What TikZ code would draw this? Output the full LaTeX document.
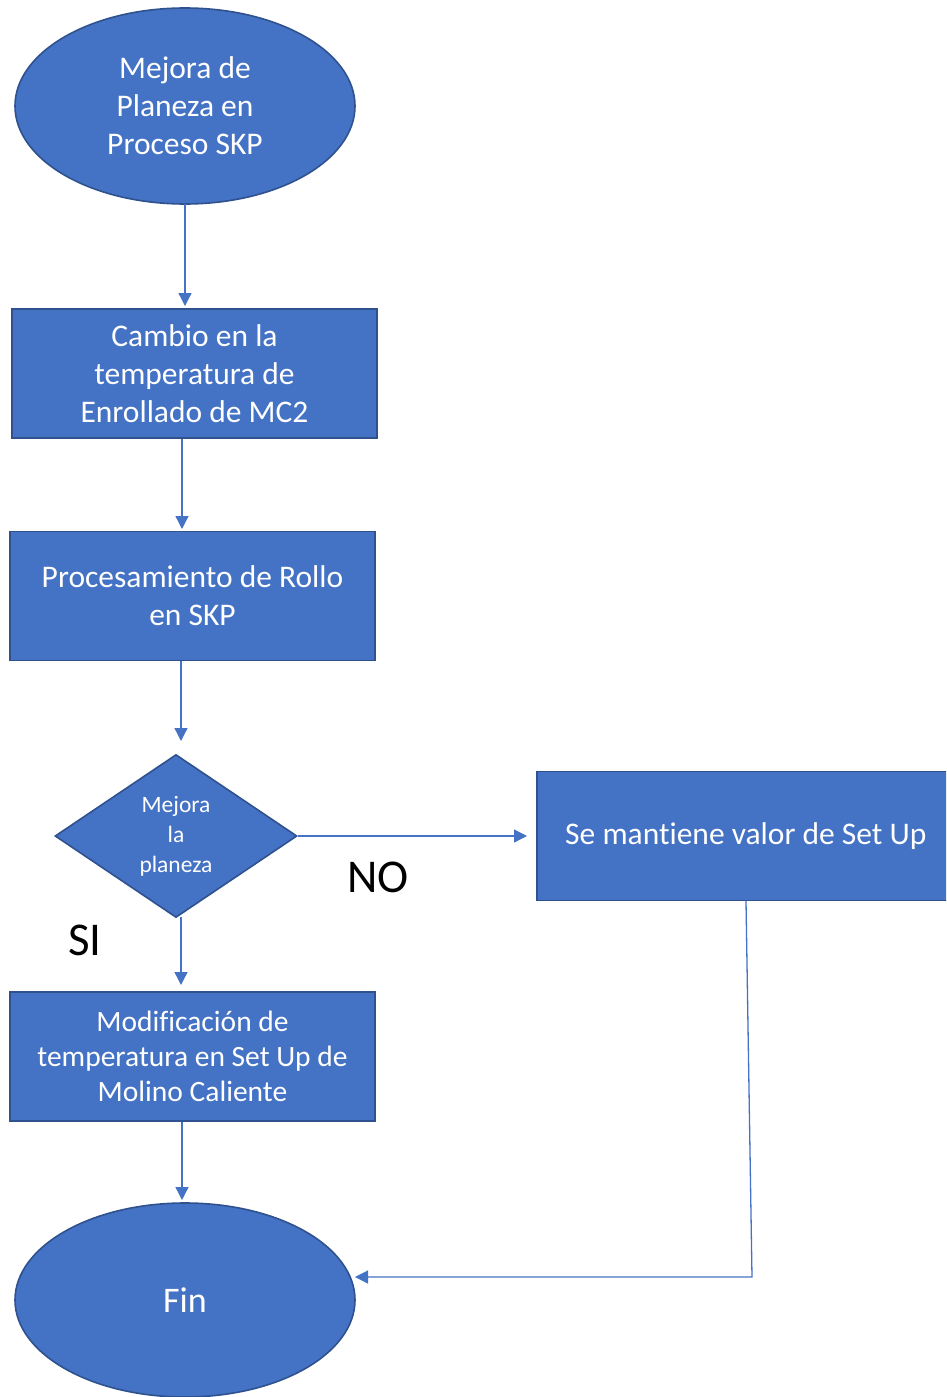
\documentclass[tikz,border=0pt]{standalone}
\usepackage{fontspec}
\setmainfont{Carlito}[Ligatures={NoCommon}]
\usetikzlibrary{shapes.geometric,arrows.meta}
\definecolor{boxfill}{HTML}{4472C4}
\definecolor{boxedge}{HTML}{2F528F}
\definecolor{flow}{HTML}{4472C4}
\tikzset{
  x=1pt, y=-1pt,
  shapebase/.style={fill=boxfill, draw=boxedge, line width=1.6pt, text=white,
    align=center, inner sep=0pt, font=\fontsize{31.5}{38}\selectfont},
  terminal/.style={shapebase, ellipse, minimum width=340pt, minimum height=196pt},
  process/.style={shapebase, rectangle, minimum width=365pt, minimum height=129pt},
  decision/.style={shapebase, diamond, minimum width=242pt, minimum height=163pt,
    font=\fontsize{23.5}{30}\selectfont},
  flowline/.style={draw=flow, line width=1.3pt, -{Triangle[length=13pt,width=13pt]}},
  answer/.style={font=\fontsize{47}{50}\selectfont, text=black}
}
\begin{document}
\begin{tikzpicture}
\useasboundingbox (0,0) rectangle (946,1397);
\clip (0,0) rectangle (946,1397);

% main column
\node[terminal] (start) at (185,106) {Mejora de\\Planeza en\\Proceso SKP};
\node[process] (temp) at (194.5,373.5) {Cambio en la\\temperatura de\\Enrollado de MC2};
\node[process] (proc) at (192.5,596) {Procesamiento de Rollo\\en SKP};
\node[decision] (dec) at (176,836) {Mejora\\la\\planeza};
\node[process, font=\fontsize{29.5}{35}\selectfont] (mod) at (192.5,1056.5) {Modificación de\\temperatura en Set Up de\\Molino Caliente};
\node[terminal, font=\fontsize{36}{40}\selectfont, minimum height=194pt] (fin) at (185,1300) {Fin};

% right branch
\node[process, minimum width=418pt, anchor=west] (keep) at (536,836) {Se mantiene valor de Set Up};

% labels
\node[answer] (no) at (378,877) {NO};
\node[answer] (si) at (85,940) {SI};

% connectors
\coordinate (a1) at (185,306);
\coordinate (a2) at (182,529);
\coordinate (a3) at (181,741);
\coordinate (a4) at (527,836);
\coordinate (s5) at (181,917);
\coordinate (a5) at (181,985);
\coordinate (a6) at (182,1200);
\coordinate (k0) at (746,901);
\coordinate (k1) at (752,1277);
\coordinate (k2) at (355,1277);

\draw[flowline] (start.south |- 0,204) -- (a1);
\draw[flowline] (temp.south -| a2) -- (a2);
\draw[flowline] (proc.south -| a3) -- (a3);
\draw[flowline] (dec.east) -- (a4);
\draw[flowline] (s5) -- (a5);
\draw[flowline] (mod.south -| a6) -- (a6);
\draw[flowline] (k0) -- (k1) -- (k2);
\end{tikzpicture}
\end{document}
